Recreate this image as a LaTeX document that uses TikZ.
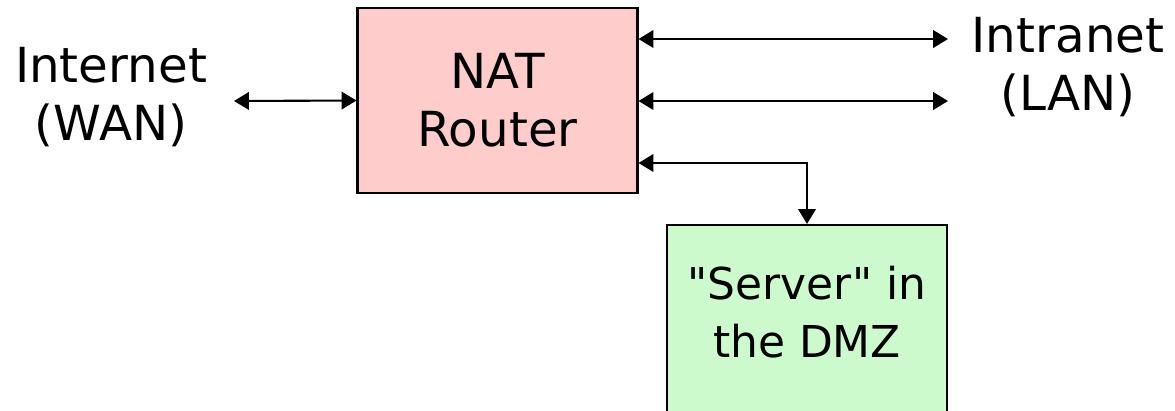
\documentclass[tikz,border=0pt]{standalone}
\usepackage{fontspec}
\setmainfont{DejaVu Sans}
\usetikzlibrary{arrows.meta}
\definecolor{natpink}{RGB}{255,204,204}
\definecolor{dmzgreen}{RGB}{204,250,204}
\tikzset{
  box/.style={draw, line width=1.2pt, minimum width=5.6cm, align=center},
  label/.style={align=center},
  link/.style={<->, line width=1.2pt}
}
\begin{document}
\begin{tikzpicture}[x=0.02cm, y=-0.02cm, >={Triangle[length=8.5pt,width=10pt]},
  font=\fontsize{27.5}{33}\selectfont]
  \useasboundingbox (0,0) rectangle (1175,410);
  \clip (0,0) rectangle (1175,410);
  \node[box, fill=natpink, minimum height=3.7cm] (nat) at (497.5,100.5) {NAT\\Router};
  \node[box, fill=dmzgreen, minimum height=3.8cm] (srv) at (807,320) {};
  \node[label, font=\fontsize{25}{33}\selectfont] (srvtext) at (807,312)
    {\textquotedbl Server\textquotedbl{} in\\the DMZ};
  \node[label] (wan) at (111,97) {Internet\\(WAN)};
  \node[label] (lan) at (1068,67) {Intranet\\(LAN)};
  \coordinate (wanend) at (234,101);
  \coordinate (lanend1) at (948,39);
  \coordinate (lanend2) at (948,101);
  \coordinate (dmzrow) at (700,163);
  \draw[link] (wanend) -- (nat.west);
  \draw[link] (nat.east |- lanend1) -- (lanend1);
  \draw[link] (nat.east |- lanend2) -- (lanend2);
  \draw[link] (nat.east |- dmzrow) -| (srv.north);
\end{tikzpicture}
\end{document}
